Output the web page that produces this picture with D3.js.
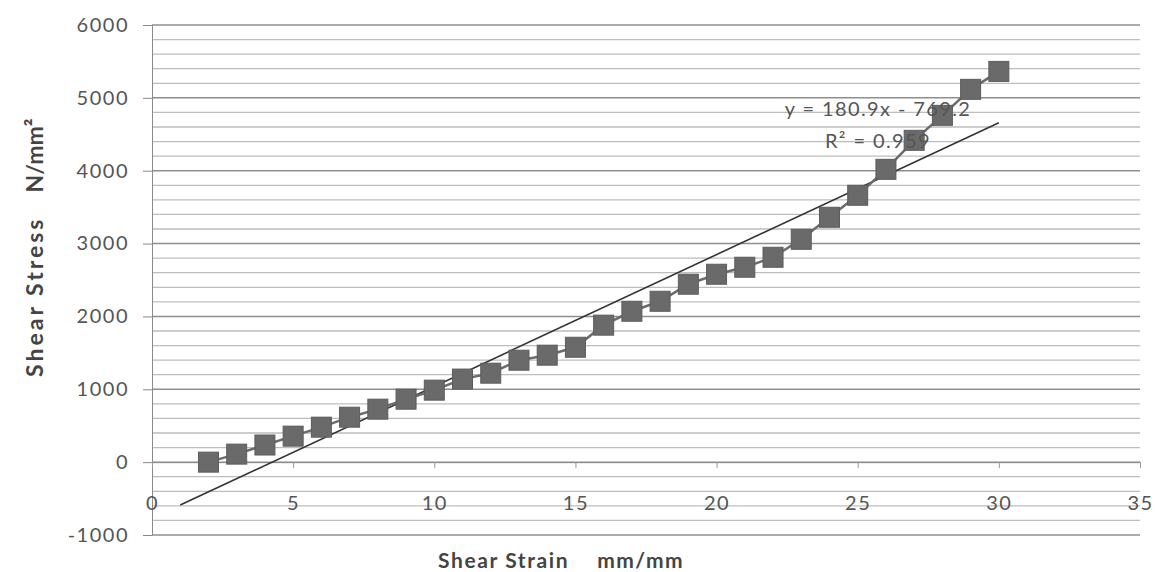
<!DOCTYPE html>
<html>
<head>
<meta charset="utf-8">
<script src="https://cdn.jsdelivr.net/npm/d3@7"></script>
<style>
  body { margin: 0; background: #fff; }
  svg text { font-family: "Lato", "Open Sans", sans-serif; }
</style>
</head>
<body>
<div id="chart"></div>
<script>
// chart size
var svgWidth = 1156;
var svgHeight = 572;

var margin = { top: 25, right: 16, bottom: 37, left: 152 };
var width = 1140 - margin.left;
var height = 535 - margin.top;

// data
var strain = [2, 3, 4, 5, 6, 7, 8, 9, 10, 11, 12, 13, 14, 15, 16, 17, 18, 19, 20, 21, 22, 23, 24, 25, 26, 27, 28, 29, 30];
var stress = [0, 110, 235, 357, 480, 617, 727, 864, 988, 1140, 1221, 1399, 1468, 1577, 1880, 2071, 2208, 2442, 2579, 2675, 2812, 3059, 3361, 3663, 4019, 4417, 4760, 5117, 5363];
var xTicks = [0, 5, 10, 15, 20, 25, 30, 35];
var yTicks = [-1000, 0, 1000, 2000, 3000, 4000, 5000, 6000];
var trendSlope = 180.9;
var trendIntercept = -769.2;
var trendRange = [1, 30];
var trendLabel = ["y = 180.9x - 769.2", "R\u00b2 = 0.959"];

var svg = d3.select("#chart")
  .append("svg")
  .attr("width", svgWidth)
  .attr("height", svgHeight);

var chartGroup = svg.append("g")
  .attr("transform", `translate(${margin.left},${margin.top})`);

var xScale = d3.scaleLinear().domain([0, 35]).range([0, width]);
var yScale = d3.scaleLinear().domain([-1000, 6000]).range([height, 0]);

// minor gridlines every 200, darker every 1000
var minor = d3.range(-1000, 6001, 200);
chartGroup.append("g")
  .selectAll("line")
  .data(minor)
  .enter()
  .append("line")
  .attr("x1", 0)
  .attr("x2", width)
  .attr("y1", d => yScale(d))
  .attr("y2", d => yScale(d))
  .attr("stroke", d => d % 1000 === 0 ? "#8e8e8e" : "#bdbdbd")
  .attr("stroke-width", d => d % 1000 === 0 ? 1.5 : 1.3);

// y axis
var leftAxis = d3.axisLeft(yScale).tickValues(yTicks).tickFormat(d3.format("d"))
  .tickSize(9).tickPadding(14);
var yAxis = chartGroup.append("g").call(leftAxis);
yAxis.select(".domain").attr("stroke", "#8a8a8a");
yAxis.selectAll(".tick line").attr("stroke", "#8a8a8a");
yAxis.selectAll("text")
  .attr("fill", "#555")
  .style("font-size", "20px")
  .style("letter-spacing", "1.5px")
  .text(d => d < 0 ? "-" + Math.abs(d) : d);

// x axis sits on y = 0
var bottomAxis = d3.axisBottom(xScale).tickValues(xTicks).tickSize(6).tickPadding(28).tickSizeOuter(0);
var xAxis = chartGroup.append("g")
  .attr("transform", `translate(0, ${yScale(0)})`)
  .call(bottomAxis);
xAxis.select(".domain").attr("stroke", "#8a8a8a");
xAxis.selectAll(".tick line").attr("stroke", "#9a9a9a");
xAxis.selectAll("text")
  .attr("fill", "#555")
  .style("font-size", "20px")
  .style("letter-spacing", "1.5px");

// trendline
var trendLine = d3.line()
  .x(d => xScale(d))
  .y(d => yScale(trendSlope * d + trendIntercept));
chartGroup.append("path")
  .datum(trendRange)
  .attr("d", trendLine)
  .attr("fill", "none")
  .attr("stroke", "#333")
  .attr("stroke-width", 1.6);

// series line
var points = strain.map((s, i) => ({ x: s, y: stress[i] }));
var seriesLine = d3.line()
  .x(d => xScale(d.x))
  .y(d => yScale(d.y));
chartGroup.append("path")
  .datum(points)
  .attr("d", seriesLine)
  .attr("fill", "none")
  .attr("stroke", "#6b6b6b")
  .attr("stroke-width", 2.5);

// square markers
var size = 20;
chartGroup.append("g")
  .selectAll("rect")
  .data(points)
  .enter()
  .append("rect")
  .attr("x", d => xScale(d.x) - size / 2)
  .attr("y", d => yScale(d.y) - size / 2)
  .attr("width", size)
  .attr("height", size)
  .attr("fill", "#6a6a6a")
  .attr("stroke", "#5c5c5c")
  .attr("stroke-width", 1);

// trendline label
var lbl = chartGroup.append("g")
  .attr("transform", "translate(726, 91)");
lbl.append("text")
  .attr("text-anchor", "middle")
  .attr("fill", "#555")
  .style("font-size", "20px")
  .style("letter-spacing", "1.4px")
  .text(trendLabel[0]);
lbl.append("text")
  .attr("y", 32)
  .attr("text-anchor", "middle")
  .attr("fill", "#555")
  .style("font-size", "20px")
  .style("letter-spacing", "1.4px")
  .text(trendLabel[1]);

// axis titles
var yTitle = svg.append("text")
  .attr("transform", "translate(43, 377) rotate(-90)")
  .attr("fill", "#444")
  .style("font-size", "23px")
  .style("font-weight", "bold");
yTitle.append("tspan")
  .style("letter-spacing", "3px")
  .text("Shear Stress");
yTitle.append("tspan")
  .attr("dx", 24)
  .style("letter-spacing", "0px")
  .text("N/mm\u00b2");

var xTitle = svg.append("text")
  .attr("x", 438)
  .attr("y", 568)
  .attr("fill", "#444")
  .style("font-size", "21px")
  .style("font-weight", "bold");
xTitle.append("tspan")
  .style("letter-spacing", "1.6px")
  .text("Shear Strain");
xTitle.append("tspan")
  .attr("dx", 28)
  .style("letter-spacing", "1.5px")
  .text("mm/mm");
</script>
</body>
</html>
